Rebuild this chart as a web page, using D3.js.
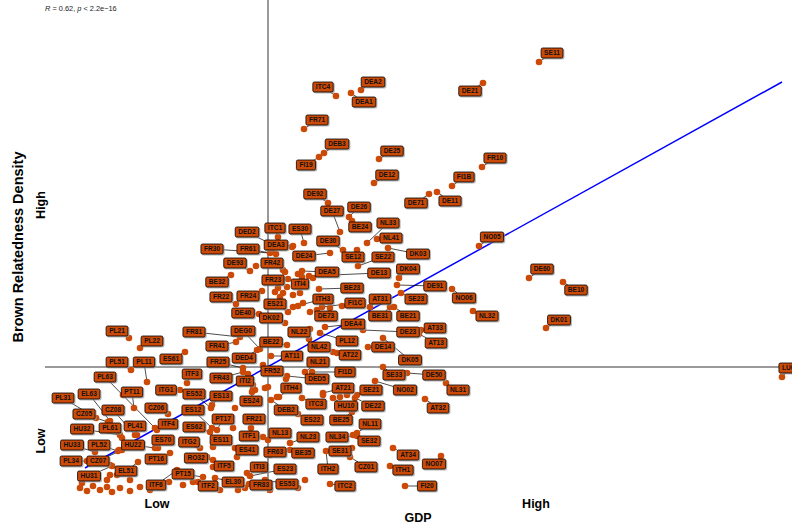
<!DOCTYPE html>
<html>
<head>
<meta charset="utf-8">
<script src="https://cdn.jsdelivr.net/npm/d3@7"></script>
<style>
  body { margin: 0; background: #fff; }
  svg { font-family: "Liberation Sans", Arial, sans-serif; }
</style>
</head>
<body>
<script>
// region codes, GDP and brown relatedness density (arbitrary units)
var regions = [
  "SE11","DE21","ITC4","DEA2","DEA1","FR71","DEB3","FI19","DE25","DE12",
  "FR10","FI1B","DE11","DE71","NO05","DE60","BE10","NO06","NL32","DK01",
  "LU00","DE92","DE27","DE26","BE24","NL33","NL41","ES30","DE30","DE24",
  "SE12","SE22","DK03","DEA5","ITI4","DE13","DK04","DE91","BE23","SE23",
  "ITH3","FI1C","AT31","ITC1","DED2","DEA3","FR30","FR61","DE93","FR42",
  "BE32","FR23","FR22","FR24","DE40","ES21","DK02","NL22","DE73","DEA4",
  "DEG0","FR41","FR81","BE22","PL12","NL42","DED4","AT11","AT22","FR25",
  "NL21","FR52","FI1D","FR43","ITI2","DED5","ITH4","AT21","DE23","AT33",
  "AT13","DE14","DK05","BE31","BE21","SE33","DE50","NL31","NO02","SE21",
  "DE22","HU10","AT32","NL11","SE32","AT34","NO07","CZ01","ITH1","FI20",
  "ITC2","ITH2","SE31","NL34","BE25","ES22","ITC3","DEB2","ES24","PT17",
  "FR21","ITF1","NL13","NL23","ES11","ES41","FR63","BE35","ITF5","ITI3",
  "ES23","EL30","ITF2","FR83","ES53","ES13","ITF3","ES52","ITG1","ES61",
  "PL21","PL22","PL51","PL11","PL63","PT11","EL63","PL31","CZ08","CZ06",
  "ES12","CZ05","ITF4","PL41","HU32","PL61","ES62","ES70","ITG2","HU33",
  "PL52","HU22","PL34","CZ07","PT16","RO32","HU31","EL51","PT15","ITF6"
];
var gdp = [
  53.9,48.3,33.6,36.1,35.1,30.4,32.4,31.9,37.9,37.4,
  48.2,45.2,43.7,42.9,47.9,52.9,56.3,45.2,47.3,54.6,
  78.2,32.8,34.0,34.9,35.2,36.7,37.7,30.4,34.3,33.0,
  35.7,35.8,38.8,30.2,30.2,30.9,39.9,39.7,31.9,40.1,
  29.3,32.2,37.0,27.8,26.9,29.3,27.0,27.6,25.0,28.5,
  23.1,28.8,23.6,26.2,25.9,28.8,28.5,31.0,31.7,32.5,
  26.0,23.6,24.0,28.7,32.0,30.9,25.7,27.1,33.3,24.3,
  30.5,26.3,31.2,24.3,24.8,28.7,27.9,32.3,36.3,42.1,
  41.9,36.8,38.3,39.0,39.4,38.3,40.7,44.6,37.5,35.7,
  35.5,33.3,42.5,35.7,35.3,39.3,44.1,35.0,39.0,40.5,
  33.0,32.6,35.2,35.7,35.2,29.8,30.2,27.1,25.3,21.7,
  25.1,26.3,26.8,29.0,21.3,23.5,27.0,29.0,21.3,24.7,
  25.0,21.5,19.8,24.9,26.5,21.2,18.7,21.1,18.0,18.5,
  12.9,14.0,13.1,14.7,15.5,13.4,11.0,9.6,13.5,16.8,
  21.2,10.8,15.7,13.7,12.0,12.2,21.0,15.8,20.0,9.5,
  11.8,15.5,8.7,12.2,17.0,21.3,11.2,13.8,20.3,17.7
];
var density = [
  43.8,41.7,40.4,41.0,40.7,37.1,34.7,34.3,34.1,31.7,
  33.3,31.4,30.8,30.6,25.4,22.2,21.8,21.1,18.9,17.2,
  12.3,29.7,26.8,28.3,27.9,25.7,26.1,25.7,25.0,24.7,
  25.0,23.4,25.2,22.9,22.3,22.4,22.2,21.5,21.1,20.7,
  19.3,19.3,19.3,26.3,25.7,25.4,24.7,24.6,22.9,22.8,
  22.5,22.1,19.6,20.9,18.6,18.8,17.7,17.1,19.0,17.3,
  15.1,15.8,16.3,15.5,16.7,16.1,15.0,14.4,14.8,13.2,
  12.8,13.5,12.8,12.8,12.6,12.4,10.3,10.7,17.0,17.0,
  16.6,15.3,16.2,19.3,19.3,13.3,12.7,11.7,11.9,10.5,
  10.2,10.2,10.1,6.7,6.5,5.2,4.4,4.3,3.4,1.4,
  1.6,4.9,5.2,6.4,8.8,8.6,10.2,10.0,11.1,7.0,
  7.2,6.3,6.0,5.7,5.3,5.2,4.5,5.0,3.3,2.7,
  2.4,2.2,1.8,1.6,2.0,9.5,11.7,9.2,11.0,14.8,
  16.2,15.2,13.0,11.8,7.2,9.2,7.9,8.2,6.5,8.6,
  7.2,7.8,7.0,6.5,6.5,6.2,6.8,5.2,5.2,4.8,
  4.9,5.2,3.9,5.0,4.7,4.0,3.4,3.8,2.3,3.0
];
// where each region's label box sits (same units as the points)
var labelGdp = [
  55.2,47.0,32.3,37.3,36.4,31.7,33.7,30.6,39.2,38.7,
  49.5,46.4,45.0,41.6,49.2,54.2,57.6,46.4,48.7,55.9,
  79.0,31.5,33.2,35.9,36.0,38.8,39.1,30.0,32.8,30.4,
  35.3,38.3,41.8,32.7,30.0,37.9,40.8,43.5,35.2,41.6,
  32.3,35.5,38.0,27.5,24.7,27.6,21.2,24.8,23.5,27.2,
  21.7,27.3,22.1,24.8,24.3,27.5,27.1,29.9,32.6,35.3,
  24.3,21.7,19.4,27.1,34.7,31.9,24.4,29.2,35.0,21.8,
  31.8,27.2,34.5,22.1,24.5,31.7,29.1,34.3,40.8,43.5,
  43.6,38.3,41.0,38.0,40.8,39.4,43.4,45.8,40.5,37.1,
  37.3,34.6,43.8,37.0,36.9,40.8,43.4,36.6,40.3,42.7,
  34.5,32.8,34.0,33.7,34.1,31.2,31.6,28.6,25.1,22.3,
  25.4,24.9,28.0,30.8,22.1,24.7,27.5,30.3,22.4,25.9,
  28.5,23.3,20.8,26.1,28.7,22.1,19.2,19.4,16.6,17.1,
  11.7,15.2,11.7,14.4,10.5,13.2,8.9,6.3,11.3,15.6,
  19.3,8.4,16.8,13.5,8.2,11.0,19.4,16.3,18.9,7.2,
  9.9,13.3,7.1,9.8,15.6,19.6,8.9,12.6,18.3,15.6
];
var labelDensity = [
  44.7,40.9,41.3,41.8,39.8,38.0,35.6,33.5,34.9,32.5,
  34.2,32.3,29.9,29.7,26.3,23.1,21.0,20.2,18.4,18.0,
  13.2,30.6,28.9,29.3,27.3,27.7,26.2,27.1,25.9,24.4,
  24.3,24.3,24.6,22.8,21.6,22.7,23.1,21.4,21.2,20.1,
  20.1,19.7,20.1,27.2,26.8,25.5,25.1,25.1,23.7,23.7,
  21.8,22.0,20.3,20.4,18.7,19.6,18.2,16.8,18.4,17.6,
  16.9,15.4,16.8,15.8,15.9,15.3,14.2,14.4,14.5,13.8,
  13.8,12.9,12.8,12.2,11.9,12.1,11.2,11.2,16.8,17.2,
  15.7,15.3,14.0,18.4,18.4,12.5,12.5,11.0,11.0,11.0,
  9.4,9.4,9.2,7.6,5.9,4.5,3.6,3.3,3.0,1.4,
  1.4,3.1,4.9,6.3,8.0,8.0,9.6,9.0,9.9,8.1,
  8.1,6.4,6.7,6.3,6.0,5.0,4.8,4.7,3.4,3.3,
  3.1,1.8,1.4,1.5,1.6,10.4,12.6,10.6,11.0,14.1,
  16.9,15.9,13.8,13.8,12.3,10.8,10.6,10.2,9.0,9.2,
  9.0,8.6,7.6,7.4,7.1,7.2,7.3,6.0,5.8,5.5,
  5.5,5.5,3.9,3.9,4.1,4.2,2.4,2.9,2.6,1.5
];
// regions drawn without a label
var otherGdp = [
  27.2,25.6,29.8,27.8,27.5,28.3,28.0,29.3,30.0,29.2,
  28.3,28.0,28.7,31.3,29.8,30.3,31.0,33.7,28.6,25.3,
  25.5,25.2,26.5,26.8,34.0,34.7,27.7,32.3,23.5,23.3,
  23.7,20.7,22.0,23.8,24.5,11.0,10.7,11.7,13.0,11.0,
  16.9,18.3,19.3,19.7,11.9,12.3,8.0,8.7,9.3,10.0,
  10.7,11.2,12.0,13.0,14.0,15.0,16.0,27.0,29.8,30.5,
  8.2,9.5,33.0,34.2
];
var otherDensity = [
  24.8,23.4,22.6,21.2,20.8,20.7,20.3,20.5,20.7,25.3,
  23.0,22.0,21.3,22.2,19.4,19.7,18.8,14.7,12.1,11.5,
  11.0,10.8,11.2,11.3,10.3,10.5,10.3,10.5,9.2,7.2,
  4.3,4.3,1.0,1.0,1.2,2.5,2.0,2.5,2.0,3.5,
  1.8,1.5,1.8,5.5,5.0,10.5,1.2,0.9,1.4,1.0,
  1.3,0.8,1.2,0.9,1.3,1.0,1.3,1.0,1.2,2.0,
  1.7,2.3,19.2,19.4
];
var meanGdp = 26.8, meanDensity = 13.3;
var fitGdp = [8.5, 78.2], fitDensity = [3.2, 41.8];

var width = 792, height = 528;
var margin = {left: 45, right: 0, top: 0, bottom: 33};

var svg = d3.select("body").append("svg")
    .attr("width", width)
    .attr("height", height);

var x = d3.scaleLinear().domain([0, 80]).range([0, 800]);
var y = d3.scaleLinear().domain([0, 50]).range([500, 0]);

var fill = "#cc4a08";

// crosshair at the means
svg.append("line")
    .attr("x1", x(meanGdp)).attr("x2", x(meanGdp))
    .attr("y1", margin.top).attr("y2", height - margin.bottom - 2)
    .attr("stroke", "#000").attr("stroke-width", 0.8);
svg.append("line")
    .attr("x1", margin.left).attr("x2", width)
    .attr("y1", y(meanDensity)).attr("y2", y(meanDensity))
    .attr("stroke", "#000").attr("stroke-width", 0.8);

// linear fit
svg.append("path")
    .datum(d3.zip(fitGdp, fitDensity))
    .attr("d", d3.line().x(function(d) { return x(d[0]); }).y(function(d) { return y(d[1]); }))
    .attr("stroke", "#0000ff").attr("stroke-width", 1.5).attr("fill", "none");

var pts = regions.map(function(r, i) {
  return {name: r, px: x(gdp[i]), py: y(density[i]), lx: x(labelGdp[i]), ly: y(labelDensity[i])};
});

// label layer built first to measure text
var labG = svg.append("g").attr("class", "labels");
var lab = labG.selectAll("g").data(pts).enter().append("g")
    .attr("transform", function(d) { return "translate(" + d.lx + "," + d.ly + ")"; });
lab.append("rect").attr("class", "shadow");
lab.append("rect").attr("class", "box");
lab.append("text")
    .text(function(d) { return d.name; })
    .attr("text-anchor", "middle")
    .attr("dy", "0.35em")
    .attr("font-size", "6.6px")
    .attr("font-weight", "bold")
    .attr("fill", "#111");

lab.each(function(d) {
  var w = d3.select(this).select("text").node().getComputedTextLength();
  d.hw = w / 2 + 3;
  d.hh = 5;
});
lab.select(".shadow")
    .attr("x", function(d) { return -d.hw + 0.8; }).attr("y", function(d) { return -d.hh + 0.8; })
    .attr("width", function(d) { return d.hw * 2 + 0.8; }).attr("height", function(d) { return d.hh * 2 + 0.8; })
    .attr("rx", 1.8).attr("fill", "#9a9a9a").attr("opacity", 0.7);
lab.select(".box")
    .attr("x", function(d) { return -d.hw; }).attr("y", function(d) { return -d.hh; })
    .attr("width", function(d) { return d.hw * 2; }).attr("height", function(d) { return d.hh * 2; })
    .attr("rx", 1.5).attr("fill", fill).attr("stroke", "#000").attr("stroke-width", 0.8);

// segments from points to label edges
var segs = [];
pts.forEach(function(d) {
  var dx = d.px - d.lx, dy = d.py - d.ly;
  var t = Math.min(dx === 0 ? Infinity : d.hw / Math.abs(dx), dy === 0 ? Infinity : d.hh / Math.abs(dy));
  if (t >= 1) return;
  var ex = d.lx + dx * t, ey = d.ly + dy * t;
  if (Math.hypot(d.px - ex, d.py - ey) < 2.5) return;
  segs.push([d.px, d.py, ex, ey]);
});
svg.insert("g", ".labels").selectAll("line").data(segs).enter().append("line")
    .attr("x1", function(s) { return s[0]; }).attr("y1", function(s) { return s[1]; })
    .attr("x2", function(s) { return s[2]; }).attr("y2", function(s) { return s[3]; })
    .attr("stroke", "#000").attr("stroke-width", 0.7);

// points
var dots = svg.insert("g", ".labels");
dots.selectAll("circle.o").data(d3.zip(otherGdp, otherDensity)).enter().append("circle")
    .attr("cx", function(d) { return x(d[0]); }).attr("cy", function(d) { return y(d[1]); })
    .attr("r", 3.3).attr("fill", fill);
dots.selectAll("circle.l").data(pts).enter().append("circle")
    .attr("cx", function(d) { return d.px; }).attr("cy", function(d) { return d.py; })
    .attr("r", 3.3).attr("fill", fill);

// correlation text
var st = svg.append("text").attr("x", 45).attr("y", 11).attr("font-size", "7.4px").attr("fill", "#222");
st.append("tspan").attr("font-style", "italic").text("R");
st.append("tspan").text(" = 0.62, ");
st.append("tspan").attr("font-style", "italic").text("p");
st.append("tspan").text(" < 2.2e\u221216");

// axis titles
svg.append("text").attr("x", 418).attr("y", 522).attr("text-anchor", "middle")
    .attr("font-size", "12.5px").attr("font-weight", "bold").text("GDP");
svg.append("text").attr("x", 157).attr("y", 508).attr("text-anchor", "middle")
    .attr("font-size", "12.5px").attr("font-weight", "bold").text("Low");
svg.append("text").attr("x", 536).attr("y", 508).attr("text-anchor", "middle")
    .attr("font-size", "12.5px").attr("font-weight", "bold").text("High");
svg.append("text").attr("transform", "translate(23,247) rotate(-90)").attr("text-anchor", "middle")
    .attr("font-size", "14.5px").attr("font-weight", "bold").text("Brown Relatedness Density");
svg.append("text").attr("transform", "translate(45,205) rotate(-90)").attr("text-anchor", "middle")
    .attr("font-size", "12.5px").attr("font-weight", "bold").text("High");
svg.append("text").attr("transform", "translate(45,441) rotate(-90)").attr("text-anchor", "middle")
    .attr("font-size", "12.5px").attr("font-weight", "bold").text("Low");
</script>
</body>
</html>
